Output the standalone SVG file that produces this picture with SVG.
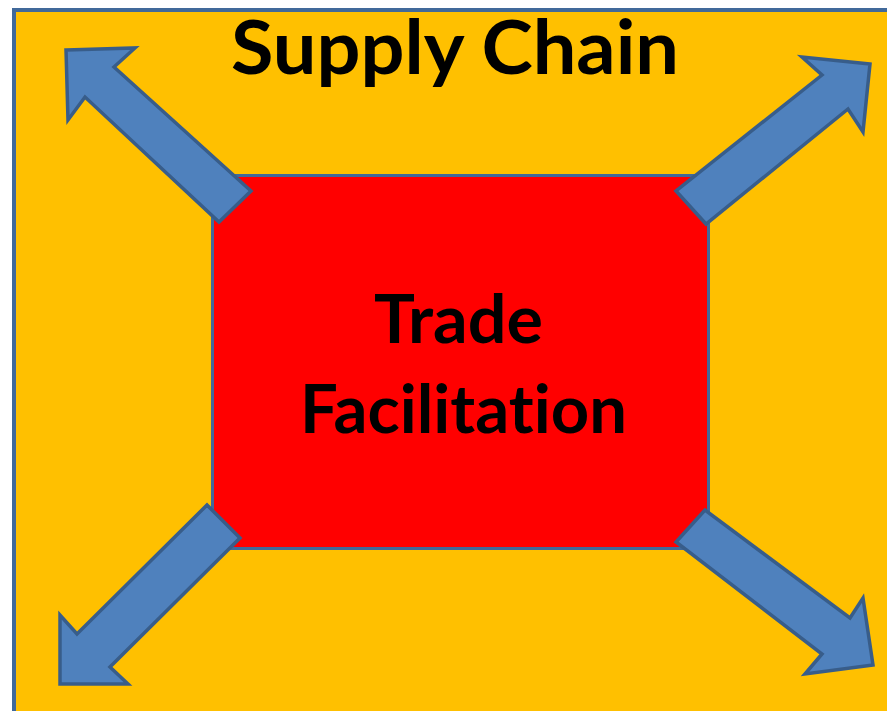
<svg xmlns="http://www.w3.org/2000/svg" width="887" height="711" viewBox="0 0 887 711">
<style>
.arrow{fill:#4F81BD;stroke:#385D8A;stroke-width:3.5;stroke-linejoin:miter}
.t{font-family:Lato,"Open Sans","Liberation Sans",sans-serif;font-weight:700;fill:#000;font-variant-ligatures:none;font-feature-settings:"liga" 0,"clig" 0}
</style>
<rect x="0" y="0" width="887" height="711" fill="#FFFFFF"/>
<g id="supply-chain">
<rect x="14" y="10" width="900" height="720" fill="#FFC000" stroke="#41699A" stroke-width="4"/>
<text class="t" x="455" y="74" font-size="74" text-anchor="middle" textLength="448" lengthAdjust="spacingAndGlyphs">Supply Chain</text>
</g>
<g id="trade-facilitation">
<rect x="212.5" y="175.5" width="496" height="373" fill="#FF0000" stroke="#41699A" stroke-width="3"/>
<text class="t" x="458.5" y="343" font-size="67" text-anchor="middle" textLength="169" lengthAdjust="spacingAndGlyphs">Trade</text>
<text class="t" x="463.5" y="433" font-size="66" text-anchor="middle" textLength="327" lengthAdjust="spacingAndGlyphs">Facilitation</text>
</g>
<g id="connectors">
<polygon id="arrow-tl" class="arrow" points="66,50 135,48 114,67 251,191 219,222 85,97 68,120"/>
<polygon id="arrow-tr" class="arrow" points="870,64 802,57 822,75 676,191 706,224 848,109 863,132"/>
<polygon id="arrow-bl" class="arrow" points="60,684 128,684 110,667 240,538 207,505 77,634 60,615"/>
<polygon id="arrow-br" class="arrow" points="873,665 805,674 822,654 676,542 705,510 850,618 863,598"/>
</g>
</svg>
